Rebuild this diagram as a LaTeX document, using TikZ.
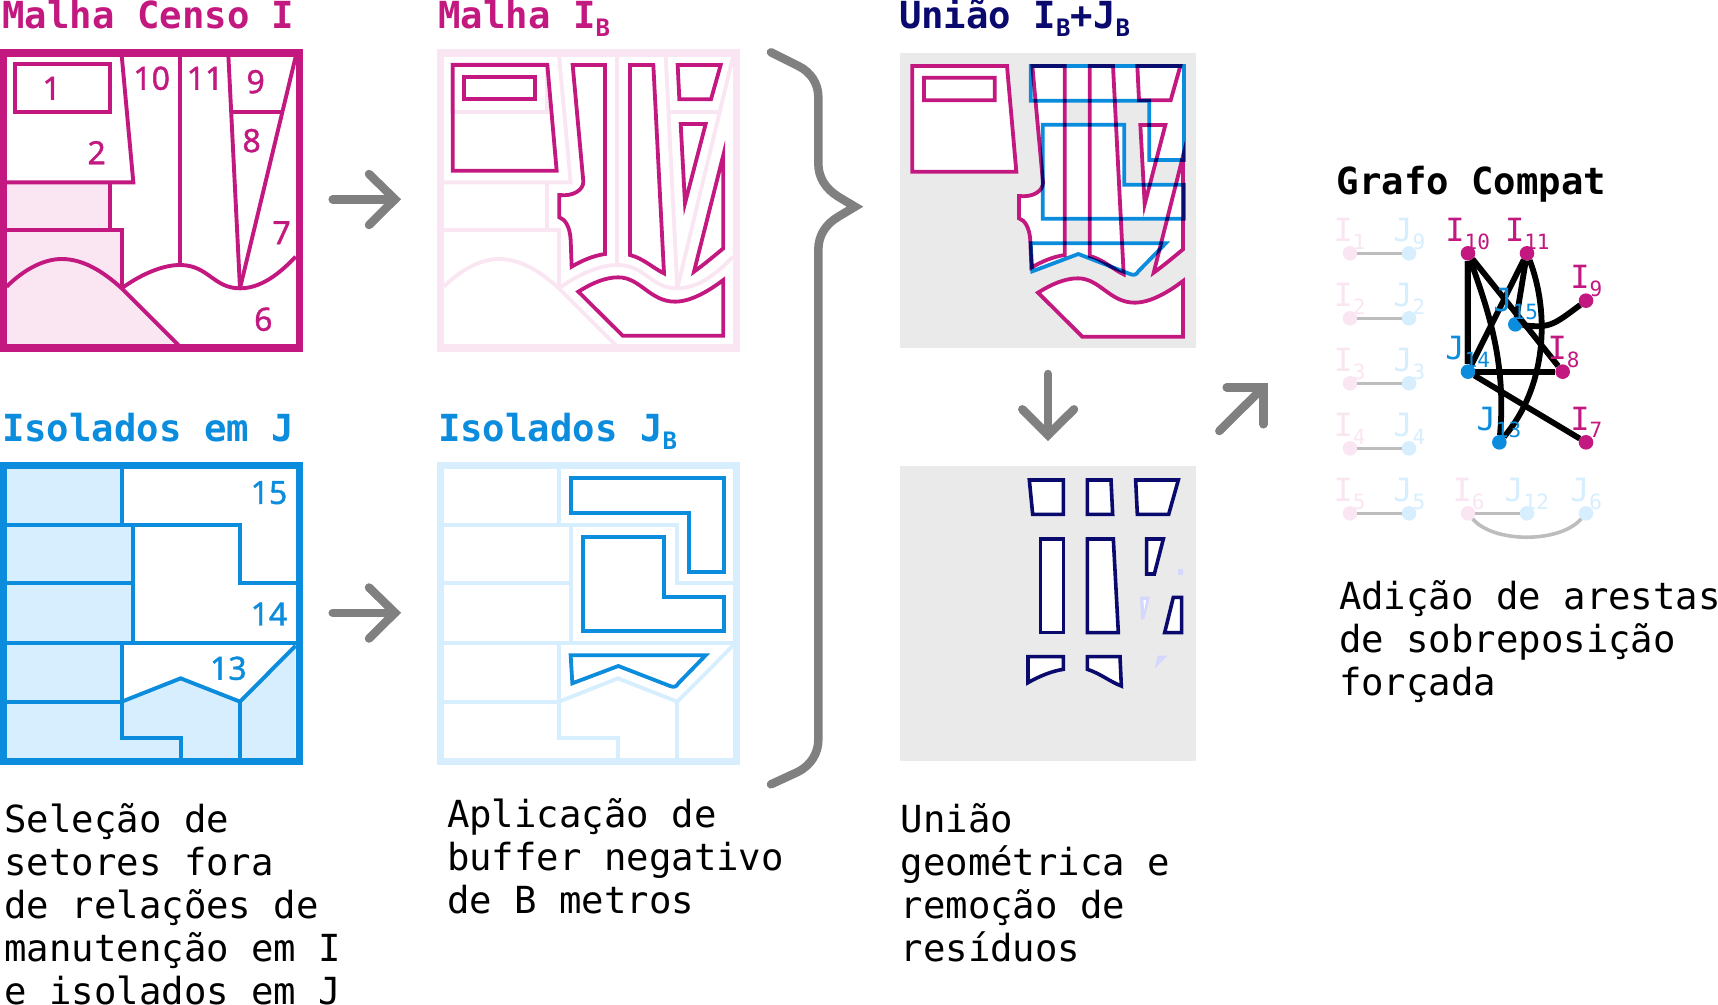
\documentclass[tikz,border=0pt]{standalone}
\usepackage{fontspec}
\newfontfamily\monof{DejaVu Sans Mono}
\newfontfamily\numf[FakeBold=1.2]{Noto Sans}
\definecolor{mag}{HTML}{C2187F}
\definecolor{blu}{HTML}{0B8CDD}
\definecolor{nav}{HTML}{0A0A6E}
\definecolor{lpk}{HTML}{FAE6F2}
\definecolor{lbl}{HTML}{D6EEFD}
\definecolor{gry}{HTML}{808080}
\definecolor{pan}{HTML}{EAEAEA}
\definecolor{lav}{HTML}{D4D8FF}
\definecolor{edgeg}{HTML}{BDBDBD}
\tikzset{
  zm/.style={x=0.33333pt,y=-0.33333pt},
  ttl/.style={anchor=base west,inner sep=0pt,outer sep=0pt,font=\monof\bfseries\fontsize{37.3}{37.3}\selectfont},
  bodyt/.style={anchor=north west,inner sep=0pt,outer sep=0pt,align=left,font=\monof\fontsize{37.3}{43}\selectfont},
  numl/.style={inner sep=0pt,outer sep=0pt,font=\numf\fontsize{32}{32}\selectfont},
  glab/.style={anchor=base west,inner sep=0pt,outer sep=0pt,font=\monof\fontsize{32}{32}\selectfont},
  gn/.style={circle,inner sep=0pt,outer sep=0pt,minimum size=14.6pt},
  blk/.style={line width=5.8pt,black},
  gre/.style={line width=3.6pt,edgeg},
  arr/.style={line width=8.5pt,gry,line cap=round,line join=miter},
  meshl/.style={line width=3.9pt},
  framel/.style={line width=7.3pt},
  bufl/.style={line width=3.8pt},
}
\newcommand{\tsub}[1]{{\fontsize{24}{24}\selectfont\raisebox{-8pt}{#1}}}
\newcommand{\gsub}[1]{{\fontsize{21}{21}\selectfont\raisebox{-7.7pt}{#1}}}
% mesh I, in zoom units, with origin at panel left
\newcommand{\meshI}[1]{%
 \draw[meshl,#1] (45,193) rectangle (330,335);
 \draw[meshl,#1] (365,165)--(400,547)--(20,547);
 \draw[meshl,#1] (330,547)--(330,690);
 \draw[meshl,#1] (20,690)--(365,690)--(365,865);
 \draw[meshl,#1] (20,860) .. controls (70,810) and (130,777) .. (185,777) .. controls (250,777) and (310,815) .. (365,865) -- (535,1035);
 \draw[meshl,#1] (365,865) .. controls (420,825) and (485,795) .. (540,795) .. controls (625,795) and (640,865) .. (720,865) .. controls (780,865) and (835,825) .. (887,770);
 \draw[meshl,#1] (540,165)--(540,795);
 \draw[meshl,#1] (685,165)--(720,865);
 \draw[meshl,#1] (695,335)--(848,335);
 \draw[meshl,#1] (887,170)--(720,865);
 \draw[framel,#1] (9,159) rectangle (898,1044);
}
\newcommand{\meshJ}[1]{%
 \draw[meshl,#1] (365,207)--(365,375);
 \draw[meshl,#1] (20,375)--(720,375)--(720,550)--(887,550);
 \draw[meshl,#1] (400,375)--(400,728);
 \draw[meshl,#1] (20,550)--(400,550);
 \draw[meshl,#1] (20,728)--(887,728);
 \draw[meshl,#1] (365,728)--(365,905);
 \draw[meshl,#1] (20,905)--(365,905);
 \draw[meshl,#1] (365,905)--(542,835)--(720,905)--(887,737);
 \draw[meshl,#1] (365,905)--(365,1015)--(542,1015)--(542,1075);
 \draw[meshl,#1] (720,905)--(720,1075);
 \draw[framel,#1] (9,196) rectangle (898,1084);
}
% buffered shapes I (coordinates of the crop at 420,0)
\newcommand{\bufI}[1]{%
 \path[#1] (98,195)--(382,195)--(410,512)--(98,512)--cycle;
 \path[#1] (133,230)--(345,230)--(345,298)--(133,298)--cycle;
 \path[#1] (458,195)--(555,195)--(555,762) .. controls (520,767) and (485,782) .. (455,800) -- (452,720) .. controls (450,680) and (435,657) .. (418,652) -- (418,585) .. controls (460,590) and (490,570) .. (490,545) -- cycle;
 \path[#1] (630,195)--(700,195)--(732,820) .. controls (700,805) and (670,775) .. (630,765) -- cycle;
 \path[#1] (773,195)--(902,195)--(873,298)--(778,298)--cycle;
 \path[#1] (782,372)--(857,372)--(795,610)--cycle;
 \path[#1] (910,465)--(910,745) .. controls (880,770) and (850,795) .. (822,815) -- cycle;
 \path[#1] (475,875) .. controls (515,850) and (555,832) .. (595,832) .. controls (660,832) and (690,905) .. (765,905) .. controls (815,905) and (870,870) .. (910,840) -- (910,1007) -- (608,1007) -- cycle;
}
\newcommand{\bufJ}[1]{%
 \path[#1] (452,234)--(912,234)--(912,516)--(808,516)--(808,338)--(452,338)--cycle;
 \path[#1] (488,410)--(733,410)--(733,590)--(912,590)--(912,692)--(488,692)--cycle;
 \path[#1] (452,766)--(857,766)--(775,850) .. controls (770,860) and (762,863) .. (750,858) -- (595,798) -- (457,850) -- cycle;
}
\begin{document}
\begin{tikzpicture}[x=1pt,y=-1pt]
\useasboundingbox (0,0) rectangle (1718,1004);
% ---------- titles
\node[ttl,text=mag] (t1) at (2.5,28.3) {Malha Censo I};
\node[ttl,text=blu] (t2) at (2,441.7) {Isolados em J};
\node[ttl,text=mag] (t3) at (438.5,28.3) {Malha I\tsub{B}};
\node[ttl,text=blu] (t4) at (438,441.7) {Isolados J\tsub{B}};
\node[ttl,text=nav] (t5) at (899,28.3) {União I\tsub{B}+J\tsub{B}};
\node[ttl,text=black] (t6) at (1336.7,194) {Grafo Compat};
% ---------- panel I
\begin{scope}[zm]
 \fill[lpk] (20,547)--(330,547)--(330,690)--(365,690)--(365,865)--(535,1035)--(20,1035)--cycle;
 \meshI{mag}
 \node[numl,text=mag] (n1) at (155,265) {1};
 \node[numl,text=mag] (n10) at (455,235) {10};
 \node[numl,text=mag] (n11) at (615,235) {11};
 \node[numl,text=mag] (n9) at (767,245) {9};
 \node[numl,text=mag] (n2) at (290,458) {2};
 \node[numl,text=mag] (n8) at (755,422) {8};
 \node[numl,text=mag] (n7) at (845,698) {7};
 \node[numl,text=mag] (n6) at (790,958) {6};
\end{scope}
% ---------- panel J
\begin{scope}[shift={(0,400)},zm]
 \fill[lbl] (20,207)--(365,207)--(365,375)--(400,375)--(400,728)--(365,728)--(365,905)--(542,835)--(720,905)--(887,737)--(887,1075)--(20,1075)--cycle;
 \meshJ{blu}
 \node[numl,text=blu] (n15) at (807,278) {15};
 \node[numl,text=blu] (n14) at (807,642) {14};
 \node[numl,text=blu] (n13) at (685,805) {13};
\end{scope}
% ---------- panel I_B
\begin{scope}[shift={(437.3,0)},zm]
 \meshI{lpk}
\end{scope}
\begin{scope}[shift={(420,0)},zm]
 \bufI{draw=mag,bufl}
\end{scope}
% ---------- panel J_B
\begin{scope}[shift={(437.3,400)},zm]
 \meshJ{lbl}
\end{scope}
\begin{scope}[shift={(420,400)},zm]
 \bufJ{draw=blu,bufl}
\end{scope}
% ---------- union panel
\fill[pan] (900,52.7) rectangle (1196,347.7);
\begin{scope}[shift={(879.67,1)},zm]
 \bufI{fill=white}
\end{scope}
\begin{scope}[shift={(880,-12)},zm]
 \bufJ{fill=white}
\end{scope}
\begin{scope}[blend group=multiply]
\begin{scope}[shift={(879.67,1)},zm]
 \bufI{draw=mag,bufl}
\end{scope}
\begin{scope}[shift={(880,-12)},zm]
 \bufJ{draw=blu,bufl}
\end{scope}
\end{scope}
% ---------- residual panel
\fill[pan] (900,466) rectangle (1196,761);
\begin{scope}[shift={(890,450)},zm]
 \fill[lav] (865,357)--(878,357)--(878,375)--(865,375)--cycle;
 \fill[lav] (750,440)--(780,440)--(763,508)--(753,508)--cycle;
 \fill[white] (760,450)--(768,450)--(763,480)--cycle;
 \fill[lav] (803,617)--(832,617)--(794,655)--cycle;
 \tikzset{res/.style={draw=nav,fill=white,line width=3.6pt}}
 \path[res] (418,90)--(520,90)--(520,193)--(428,193)--cycle;
 \path[res] (592,90)--(663,90)--(668,193)--(592,193)--cycle;
 \path[res] (737,90)--(865,90)--(836,193)--(742,193)--cycle;
 \path[res] (451,267)--(520,267)--(520,548)--(451,548)--cycle;
 \path[res] (592,267)--(670,267)--(685,548)--(592,548)--cycle;
 \path[res] (770,267)--(820,267)--(793,372)--(770,372)--cycle;
 \path[res] (850,442)--(875,442)--(875,548)--(824,548)--cycle;
 \path[res] (414,620)--(520,620)--(520,658) .. controls (485,663) and (445,680) .. (414,698) -- cycle;
 \path[res] (592,620)--(690,620)--(694,708) .. controls (660,695) and (630,670) .. (592,658) -- cycle;
\end{scope}
% ---------- arrows
\coordinate (a1s) at (332.7,199.3); \coordinate (a1e) at (395,199.3);
\draw[arr] (a1s) -- (a1e);
\draw[arr] (369,174) -- (a1e) -- (369,225);
\coordinate (a2s) at (332.7,612.8); \coordinate (a2e) at (395,612.8);
\draw[arr] (a2s) -- (a2e);
\draw[arr] (369,587.5) -- (a2e) -- (369,638.5);
\coordinate (a3s) at (1048,374); \coordinate (a3e) at (1048,435);
\draw[arr] (a3s) -- (a3e);
\draw[arr] (1022.3,409.3) -- (a3e) -- (1074,409.3);
\coordinate (a4s) at (1219.3,431); \coordinate (a4e) at (1263.3,387.3);
\draw[arr] (a4s) -- (a4e);
\draw[arr] (1226.7,387.3) -- (a4e) -- (1263.3,424.3);
% ---------- brace
\draw[arr] (771,52.3) -- (798.3,66) .. controls (811,72) and (818.3,84) .. (818.3,96.7) -- (818.3,163.3) .. controls (818.3,178) and (826,189) .. (838.3,196.7) -- (855,206.7) -- (838.3,216.7) .. controls (826,224) and (818.3,235) .. (818.3,250) -- (818.3,740) .. controls (818.3,753) and (811,765) .. (798.3,771.7) -- (771,784.3);
% ---------- graph
\begin{scope}[shift={(1320,200)},zm]
 \node[gn,fill=lpk] (I1) at (90,160) {};
 \node[gn,fill=lbl] (J9) at (267,160) {};
 \node[gn,fill=lpk] (I2) at (90,355) {};
 \node[gn,fill=lbl] (J2) at (267,355) {};
 \node[gn,fill=lpk] (I3) at (90,550) {};
 \node[gn,fill=lbl] (J3) at (267,550) {};
 \node[gn,fill=lpk] (I4) at (90,745) {};
 \node[gn,fill=lbl] (J4) at (267,745) {};
 \node[gn,fill=lpk] (I5) at (90,940) {};
 \node[gn,fill=lbl] (J5) at (267,940) {};
 \node[gn,fill=lpk] (I6) at (444,940) {};
 \node[gn,fill=lbl] (J12) at (621,940) {};
 \node[gn,fill=lbl] (J6) at (798,940) {};
 \node[gn,fill=mag] (I10) at (444,160) {};
 \node[gn,fill=mag] (I11) at (621,160) {};
 \node[gn,fill=mag] (I9) at (798,302) {};
 \node[gn,fill=blu] (J15) at (586,373) {};
 \node[gn,fill=blu] (J14) at (444,515) {};
 \node[gn,fill=mag] (I8) at (728,515) {};
 \node[gn,fill=blu] (J13) at (538,727) {};
 \node[gn,fill=mag] (I7) at (798,727) {};
 \draw[gre] (I1)--(J9); \draw[gre] (I2)--(J2); \draw[gre] (I3)--(J3);
 \draw[gre] (I4)--(J4); \draw[gre] (I5)--(J5); \draw[gre] (I6)--(J12);
 \draw[gre] (I6) .. controls (520,1030) and (720,1030) .. (J6);
 \draw[gre,transform canvas={xshift=-1.8pt}] (I10)--(J14);
 \draw[blk] (I10)--(J14);
 \draw[blk] (I10)--(I8);
 \draw[blk] (I10) .. controls (500,320) and (560,480) .. (J13);
 \draw[blk] (I11)--(J14);
 \draw[blk] (I11)--(J15);
 \draw[blk] (I11) .. controls (690,340) and (680,560) .. (J13);
 \draw[blk] (J15) .. controls (690,385) and (700,375) .. (I9);
 \draw[blk] (J14)--(I8);
 \draw[blk] (J14)--(I7);
 \node[glab,text=lpk] (LI1) at (41,125) {I\gsub{1}};
 \node[glab,text=lbl] (LJ9) at (220,125) {J\gsub{9}};
 \node[glab,text=lpk] (LI2) at (41,320) {I\gsub{2}};
 \node[glab,text=lbl] (LJ2) at (220,320) {J\gsub{2}};
 \node[glab,text=lpk] (LI3) at (41,515) {I\gsub{3}};
 \node[glab,text=lbl] (LJ3) at (220,515) {J\gsub{3}};
 \node[glab,text=lpk] (LI4) at (41,710) {I\gsub{4}};
 \node[glab,text=lbl] (LJ4) at (220,710) {J\gsub{4}};
 \node[glab,text=lpk] (LI5) at (41,905) {I\gsub{5}};
 \node[glab,text=lbl] (LJ5) at (220,905) {J\gsub{5}};
 \node[glab,text=lpk] (LI6) at (398,905) {I\gsub{6}};
 \node[glab,text=lbl] (LJ12) at (553,905) {J\gsub{12}};
 \node[glab,text=lbl] (LJ6) at (750,905) {J\gsub{6}};
 \node[glab,text=mag] (LI10) at (376,125) {I\gsub{10}};
 \node[glab,text=mag] (LI11) at (555,125) {I\gsub{11}};
 \node[glab,text=mag] (LI9) at (751,265) {I\gsub{9}};
 \node[glab,text=blu] (LJ15) at (520,335) {J\gsub{15}};
 \node[glab,text=blu] (LJ14) at (376,478) {J\gsub{14}};
 \node[glab,text=mag] (LI8) at (683,478) {I\gsub{8}};
 \node[glab,text=blu] (LJ13) at (470,690) {J\gsub{13}};
 \node[glab,text=mag] (LI7) at (751,690) {I\gsub{7}};
\end{scope}
% ---------- body texts
\node[bodyt] (b1) at (4.4,803.3) {Seleção de\\setores fora\\de relações de\\manutenção em I\\e isolados em J};
\node[bodyt] (b2) at (447,798.9) {Aplicação de\\buffer negativo\\de B metros};
\node[bodyt] (b3) at (900.7,803.3) {União\\geométrica e\\remoção de\\resíduos};
\node[bodyt] (b4) at (1339,580.3) {Adição de arestas\\de sobreposição\\forçada};
\end{tikzpicture}
\end{document}
